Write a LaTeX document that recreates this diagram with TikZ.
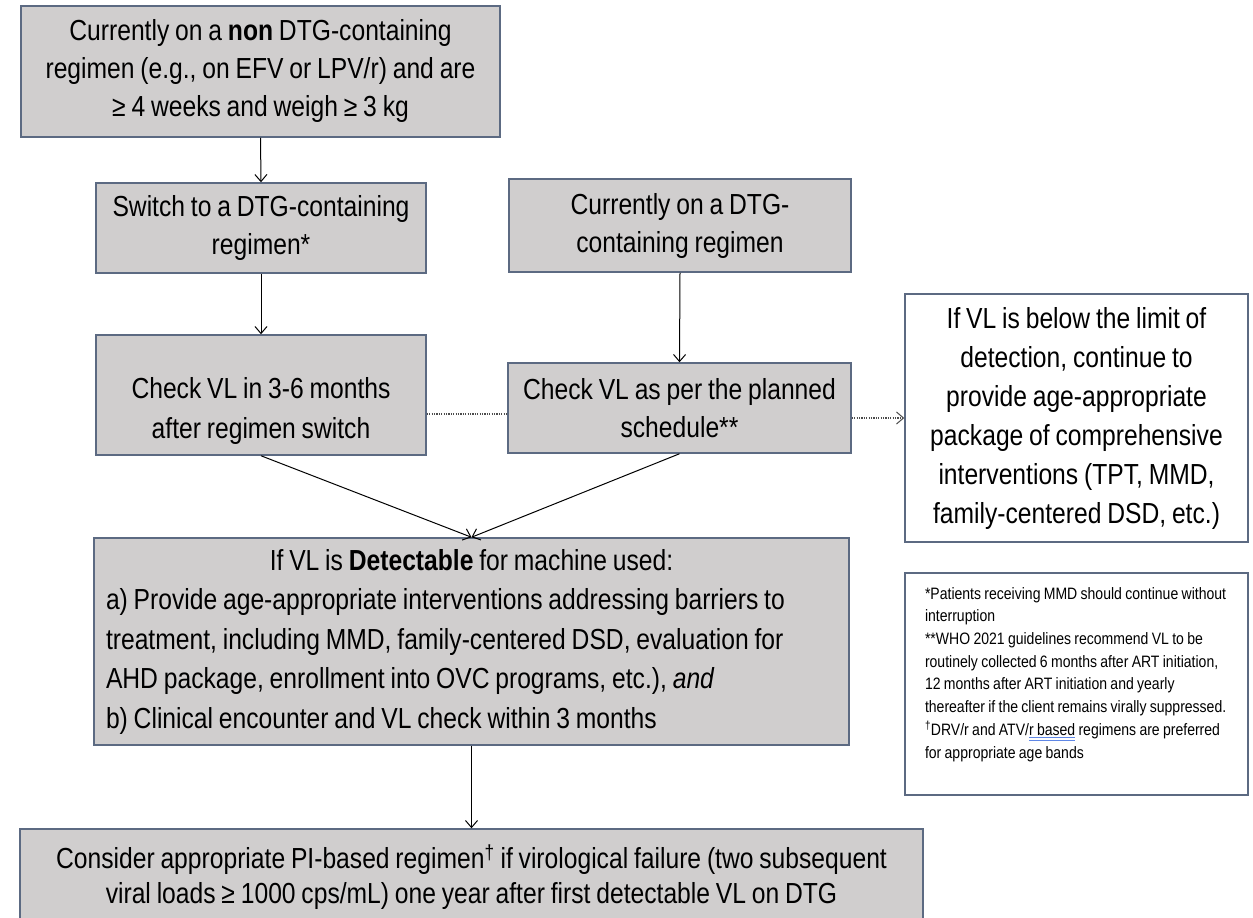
\documentclass[tikz,border=0pt]{standalone}
\usepackage{fontspec}
\setmainfont{Liberation Sans}[FakeStretch=0.85, WordSpace=0.85]
\usetikzlibrary{arrows.meta}
\definecolor{boxfill}{RGB}{208,206,206}
\definecolor{boxline}{RGB}{92,106,130}
\definecolor{ulblue}{RGB}{95,135,230}
\newlength\ulwd
\newcommand\spellul[1]{\settowidth\ulwd{#1}\makebox[0pt][l]{\color{ulblue}\rule[-2.5pt]{\ulwd}{1pt}\hspace{-\ulwd}\rule[-5.2pt]{\ulwd}{1pt}}#1}
\tikzset{
  flowbox/.style={draw=boxline, line width=1.5pt, fill=boxfill, inner sep=0pt,
    align=flush center, font=\fontsize{29}{38}\selectfont},
  notebox/.style={flowbox, fill=white},
  arr/.style={-{Straight Barb[length=7pt,width=12pt,line width=1pt]}, line width=1pt, black},
  dotline/.style={line width=1.2pt, dash pattern=on 1.2pt off 1.2pt, black!70},
  dotarr/.style={dotline, -{Straight Barb[length=7pt,width=12pt,line width=1pt]}}
}
\begin{document}
\begin{tikzpicture}[x=1pt,y=-1pt]
\clip (0,0) rectangle (1253,918);
\useasboundingbox (0,0) rectangle (1253,918);
\fill[white] (0,0) rectangle (1253,918);

\node[flowbox, minimum width=479, minimum height=131, text width=470] (top) at (260.5,71.5)
  {Currently on a \textbf{non} DTG-containing\\ regimen (e.g., on EFV or LPV/r) and are\\ ≥ 4 weeks and weigh ≥ 3 kg};

\node[flowbox, minimum width=330, minimum height=90, text width=320] (switch) at (261,228)
  {Switch to a DTG-containing\\ regimen*};

\node[flowbox, minimum width=342, minimum height=93, text width=332] (ondtg) at (680,225.5)
  {Currently on a DTG-\\ containing regimen};

\node[flowbox, minimum width=330, minimum height=120,
  label={[align=flush center, text width=320, font=\fontsize{29}{40}\selectfont, yshift=-16pt]center:Check VL in 3-6 months\\ after regimen switch}] (check1) at (261,395) {};

\node[flowbox, minimum width=343, minimum height=90, text width=333] (check2) at (679.5,408)
  {Check VL as per the planned\\ schedule**};

\node[notebox, minimum width=343, minimum height=248, text width=333, font=\fontsize{29}{39}\selectfont] (below) at (1076.5,418)
  {If VL is below the limit of\\ detection, continue to\\ provide age-appropriate\\ package of comprehensive\\ interventions (TPT, MMD,\\ family-centered DSD, etc.)};

\node[flowbox, minimum width=755, minimum height=207, text width=731, inner xsep=12pt, align=flush left, font=\fontsize{29}{39.5}\selectfont] (detect) at (471.5,641.5)
  {{\centering If VL is \textbf{Detectable} for machine used:\par}
   a) Provide age-appropriate interventions addressing barriers to\\
   treatment, including MMD, family-centered DSD, evaluation for\\
   AHD package, enrollment into OVC programs, etc.), \textit{and}\\
   b) Clinical encounter and VL check within 3 months};

\node[notebox, minimum width=343, minimum height=222, text width=303, inner xsep=20pt, align=flush left, font=\fontsize{16.5}{22.7}\selectfont] (notes) at (1076.5,684)
  {*Patients receiving MMD should continue without\\
   interruption\\
   {}**WHO 2021 guidelines recommend VL to be\\
   routinely collected 6 months after ART initiation,\\
   12 months after ART initiation and yearly\\
   thereafter if the client remains virally suppressed.\\
   \textsuperscript{†}DRV/r and ATV/\spellul{r based} regimens are preferred\\
   for appropriate age bands\\ \mbox{}};

\node[flowbox, minimum width=903, minimum height=96, text width=890, font=\fontsize{29}{35}\selectfont] (pi) at (471.5,877)
  {Consider appropriate PI-based regimen\textsuperscript{†} if virological failure (two subsequent\\
   viral loads ≥ 1000 cps/mL) one year after first detectable VL on DTG};

\coordinate (dl) at ([yshift=-19pt]check1.east);
\draw[arr] (top.south) -- (switch.north);
\draw[arr] (switch.south) -- (check1.north);
\draw[arr] (ondtg.south) -- (check2.north);
\draw[dotline] (dl) -- (dl -| check2.west);
\draw[dotarr] (check2.east |- below.west) -- (below.west);
\draw[arr] (check1.south) -- (detect.north);
\draw[arr] (check2.south) -- (detect.north);
\draw[arr] (detect.south) -- (pi.north);
\end{tikzpicture}
\end{document}
